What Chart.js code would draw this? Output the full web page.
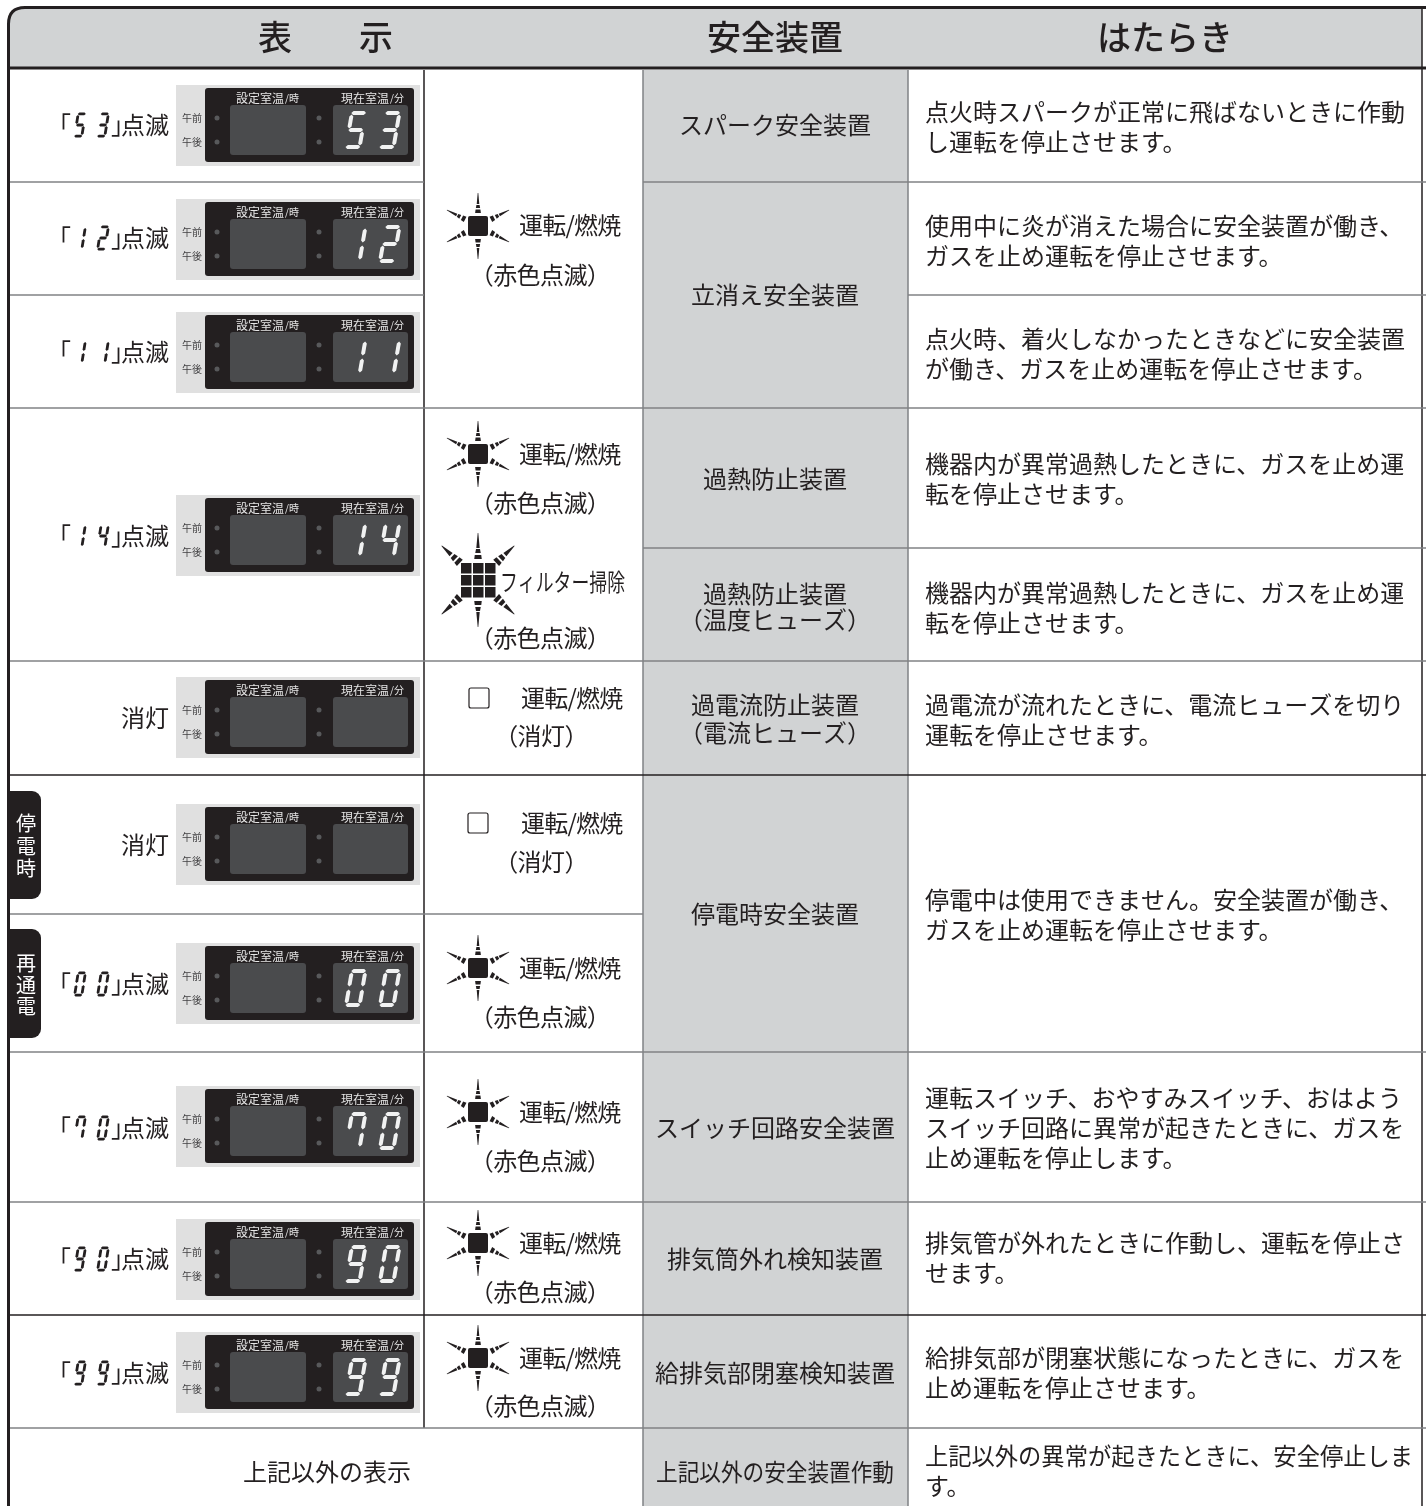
<!DOCTYPE html>
<html lang="ja">
<head>
<meta charset="utf-8">
<title>安全装置</title>
<script src="https://cdn.jsdelivr.net/npm/chart.js@4"></script>
<style>
  html, body { margin: 0; padding: 0; background: #fff; }
  canvas { display: block; }
</style>
</head>
<body>
<canvas id="safetyChart" width="1426" height="1506"></canvas>
<script>
// Table contents
const headers = ["表", "示", "安全装置", "はたらき"];
const displayCodes = ["53", "12", "11", "14", "", "", "00", "70", "90", "99"];
const displayWords = ["点滅", "点滅", "点滅", "点滅", "消灯", "消灯", "点滅", "点滅", "点滅", "点滅"];
const lampName = "運転/燃焼";
const filterName = "フィルター掃除";
const lampBlink = "（赤色点滅）";
const lampOff = "（消灯）";
const sideTabs = [["停", "電", "時"], ["再", "通", "電"]];
const deviceNames = [
  ["スパーク安全装置"], ["立消え安全装置"], ["過熱防止装置"], ["過熱防止装置", "（温度ヒューズ）"],
  ["過電流防止装置", "（電流ヒューズ）"], ["停電時安全装置"], ["スイッチ回路安全装置"],
  ["排気筒外れ検知装置"], ["給排気部閉塞検知装置"], ["上記以外の安全装置作動"]
];
const descriptions = [
  ["点火時スパークが正常に飛ばないときに作動", "し運転を停止させます。"],
  ["使用中に炎が消えた場合に安全装置が働き、", "ガスを止め運転を停止させます。"],
  ["点火時、着火しなかったときなどに安全装置", "が働き、ガスを止め運転を停止させます。"],
  ["機器内が異常過熱したときに、ガスを止め運", "転を停止させます。"],
  ["機器内が異常過熱したときに、ガスを止め運", "転を停止させます。"],
  ["過電流が流れたときに、電流ヒューズを切り", "運転を停止させます。"],
  ["停電中は使用できません。安全装置が働き、", "ガスを止め運転を停止させます。"],
  ["運転スイッチ、おやすみスイッチ、おはよう", "スイッチ回路に異常が起きたときに、ガスを", "止め運転を停止します。"],
  ["排気管が外れたときに作動し、運転を停止さ", "せます。"],
  ["給排気部が閉塞状態になったときに、ガスを", "止め運転を停止させます。"],
  ["上記以外の異常が起きたときに、安全停止しま", "す。"]
];
const otherDisplay = "上記以外の表示";

// Layout, in page pixels (the axes run 0..1426 and 0..1506)
const colEdges = [10, 424, 643, 908, 1422];
const panelTops = [85, 199, 312, 495, 677, 804, 943, 1086, 1219, 1332];
const wordY = [125, 238, 352, 536, 718, 845, 984, 1128, 1259, 1373];
const sunLamps = [[478, 226, 225, 275], [478, 454, 454, 503], [478, 968, 968, 1017], [478, 1112, 1112, 1161], [478, 1243, 1243, 1292], [478, 1358, 1358, 1406]];
const offLamps = [[479, 698, 698, 736], [478, 823, 823, 862]];
const deviceY = [[125], [295], [479], [594, 620], [705, 733], [914], [1128], [1259], [1373], [1472]];
const descY = [[112, 142], [226, 256], [339, 369], [464, 494], [593, 623], [705, 735], [900, 930], [1098, 1128, 1158], [1243, 1273], [1358, 1388], [1456, 1486]];
const tabBoxes = [[791, 899, [823, 846, 868]], [929, 1038, [963, 985, 1006]]];

const INK = "#231f20";
const RULE = "#808285";
const SHADE = "#d1d3d4";
const JP = '"Noto Sans CJK JP", "Noto Sans", sans-serif';

// One entry per ruled line: y, x from, x to, colour
const hRules = [
  [182, 10, 424, RULE], [182, 643, 1426, RULE],
  [295, 10, 424, RULE], [295, 908, 1426, RULE],
  [408, 10, 1426, RULE], [548, 643, 1426, RULE],
  [661, 10, 1426, RULE], [775, 10, 1426, INK],
  [914, 10, 643, RULE], [1052, 10, 1426, RULE],
  [1202, 10, 1426, RULE], [1315, 10, 1426, INK],
  [1428, 10, 1426, RULE]
];
const vRules = [
  [424, 70, 1428, INK], [643, 70, 1506, RULE], [908, 70, 1506, RULE], [1422, 8, 1506, INK]
];

const lineSets = [];
hRules.forEach(r => lineSets.push({
  type: "scatter", showLine: true, pointRadius: 0, borderWidth: 1.5, borderColor: r[3],
  data: [{ x: r[1], y: r[0] }, { x: r[2], y: r[0] }]
}));
vRules.forEach(r => lineSets.push({
  type: "scatter", showLine: true, pointRadius: 0, borderWidth: 1.5, borderColor: r[3],
  data: [{ x: r[0], y: r[1] }, { x: r[0], y: r[2] }]
}));

// Seven segment lookup: top, upper left, upper right, middle, lower left, lower right, bottom
const segMap = {
  "0": [1, 1, 1, 0, 1, 1, 1], "1": [0, 0, 1, 0, 0, 1, 0], "2": [1, 0, 1, 1, 1, 0, 1],
  "3": [1, 0, 1, 1, 0, 1, 1], "4": [0, 1, 1, 1, 0, 1, 0], "5": [1, 1, 0, 1, 0, 1, 1],
  "7": [1, 1, 1, 0, 0, 1, 0], "9": [1, 1, 1, 1, 0, 1, 1]
};

function drawDigit(c, ch, x, y, w, h, t, skew, color) {
  const on = segMap[ch];
  if (!on) return;
  const g = t * 0.35;
  const poly = pts => {
    c.beginPath();
    pts.forEach((p, i) => {
      const px = x + p[0] + (h / 2 - p[1]) * skew;
      if (i === 0) c.moveTo(px, y + p[1]); else c.lineTo(px, y + p[1]);
    });
    c.closePath();
    c.fill();
  };
  const hs = (yy) => poly([[g, yy], [g + t / 2, yy - t / 2], [w - g - t / 2, yy - t / 2], [w - g, yy], [w - g - t / 2, yy + t / 2], [g + t / 2, yy + t / 2]]);
  const vs = (xx, y0, y1) => poly([[xx, y0 + g], [xx + t / 2, y0 + g + t / 2], [xx + t / 2, y1 - g - t / 2], [xx, y1 - g], [xx - t / 2, y1 - g - t / 2], [xx - t / 2, y0 + g + t / 2]]);
  c.fillStyle = color;
  if (on[0]) hs(t / 2);
  if (on[3]) hs(h / 2);
  if (on[6]) hs(h - t / 2);
  if (on[1]) vs(t / 2, t / 2, h / 2);
  if (on[2]) vs(w - t / 2, t / 2, h / 2);
  if (on[4]) vs(t / 2, h / 2, h - t / 2);
  if (on[5]) vs(w - t / 2, h / 2, h - t / 2);
}

function label(c, s, x, y, size, align, color, maxW, spacing, weight) {
  c.font = `${weight || 400} ${size}px ${JP}`;
  c.textAlign = align || "left";
  c.textBaseline = "middle";
  c.fillStyle = color || INK;
  c.letterSpacing = spacing || "0px";
  if (maxW) c.fillText(s, x, y, maxW); else c.fillText(s, x, y);
  c.letterSpacing = "0px";
}

function roundBox(c, x, y, w, h, r, color) {
  c.fillStyle = color;
  c.beginPath();
  c.roundRect(x, y, w, h, r);
  c.fill();
}

function drawPanel(c, top, code) {
  c.fillStyle = "#e0e0e0";
  c.fillRect(176, top, 244, 81);
  roundBox(c, 205, top + 3, 209, 74, 3, INK);
  roundBox(c, 230, top + 20, 76, 50, 3, "#4a4b4d");
  roundBox(c, 333, top + 20, 75, 50, 3, "#4a4b4d");
  label(c, "午前", 182, top + 33, 10, "left", "#414042");
  label(c, "午後", 182, top + 57, 10, "left", "#414042");
  [217, 319].forEach(x => [33, 57].forEach(dy => {
    c.fillStyle = "#58595b";
    c.beginPath();
    c.arc(x, top + dy, 2.5, 0, Math.PI * 2);
    c.fill();
  }));
  label(c, "設定室温", 236, top + 13, 12, "left", "#e6e6e6");
  label(c, "/時", 285, top + 13, 10, "left", "#e6e6e6");
  label(c, "現在室温", 341, top + 13, 12, "left", "#e6e6e6");
  label(c, "/分", 390, top + 13, 10, "left", "#e6e6e6");
  if (code) {
    drawDigit(c, code[0], 347, top + 26, 17.5, 38, 4, 0.17, "#f1f2f2");
    drawDigit(c, code[1], 381, top + 26, 17.5, 38, 4, 0.17, "#f1f2f2");
  }
}

function ray(c, cx, cy, dx, dy, pieces) {
  const len = Math.hypot(dx, dy);
  const ux = dx / len, uy = dy / len;
  c.fillStyle = INK;
  pieces.forEach(p => {
    c.beginPath();
    c.moveTo(cx + ux * p[0] - uy * p[1] / 2, cy + uy * p[0] + ux * p[1] / 2);
    c.lineTo(cx + ux * p[2] - uy * p[3] / 2, cy + uy * p[2] + ux * p[3] / 2);
    c.lineTo(cx + ux * p[2] + uy * p[3] / 2, cy + uy * p[2] - ux * p[3] / 2);
    c.lineTo(cx + ux * p[0] + uy * p[1] / 2, cy + uy * p[0] - ux * p[1] / 2);
    c.closePath();
    c.fill();
  });
}

function drawSun(c, cx, cy) {
  roundBox(c, cx - 10, cy - 10, 20, 20, 2, INK);
  const straight = [[33, 0.6, 22, 2.6], [21, 3.2, 18, 4.2], [16.5, 4.8, 13, 5.8]];
  const slant = [[35, 0.6, 24, 2.6], [23, 3.2, 20, 4.2], [18, 4.8, 14.5, 5.8]];
  ray(c, cx, cy, 0, -1, straight);
  ray(c, cx, cy, 0, 1, straight);
  [[-31, -16], [31, -16], [-31, 16], [31, 16]].forEach(d => ray(c, cx, cy, d[0], d[1], slant));
}

function drawFilterSun(c, cx, cy) {
  c.fillStyle = INK;
  for (let i = 0; i < 3; i++) {
    for (let j = 0; j < 3; j++) {
      c.fillRect(cx - 17 + i * 12, cy - 17 + j * 12, 10.5, 10.5);
    }
  }
  const straight = [[47, 0.6, 32, 3.4], [31, 4, 27, 5.5], [25, 6.5, 21, 7.5]];
  const slant = [[50, 0.6, 37, 4.4], [35, 5.4, 31, 7], [29, 7.5, 25, 8.5]];
  ray(c, cx, cy, 0, -1, straight);
  ray(c, cx, cy, 0, 1, straight);
  [[-36, -34], [36, -34], [-36, 34], [36, 34]].forEach(d => ray(c, cx, cy, d[0], d[1], slant));
}

const background = {
  id: "background",
  beforeDatasetsDraw(chart) {
    const c = chart.ctx;
    const X = v => chart.scales.x.getPixelForValue(v);
    const Y = v => chart.scales.y.getPixelForValue(v);
    // shaded device column
    c.fillStyle = SHADE;
    c.fillRect(X(colEdges[2]), Y(70), X(colEdges[3]) - X(colEdges[2]), Y(1506) - Y(70));
    // header band with the rounded corner
    c.beginPath();
    c.moveTo(X(8.5), Y(68));
    c.lineTo(X(8.5), Y(24));
    c.quadraticCurveTo(X(8.5), Y(7.5), X(25), Y(7.5));
    c.lineTo(X(1422), Y(7.5));
    c.lineTo(X(1422), Y(68));
    c.closePath();
    c.fillStyle = SHADE;
    c.fill();
  },
  afterDatasetsDraw(chart) {
    const c = chart.ctx;
    const X = v => chart.scales.x.getPixelForValue(v);
    const Y = v => chart.scales.y.getPixelForValue(v);
    // thick frame
    c.strokeStyle = INK;
    c.lineWidth = 3;
    c.beginPath();
    c.moveTo(X(8.5), Y(1506));
    c.lineTo(X(8.5), Y(24));
    c.quadraticCurveTo(X(8.5), Y(7.5), X(25), Y(7.5));
    c.lineTo(X(1426), Y(7.5));
    c.moveTo(X(8.5), Y(68));
    c.lineTo(X(1426), Y(68));
    c.stroke();

    // header
    label(c, headers[0], X(275), Y(37), 34, "center", INK, 0, "0px", 500);
    label(c, headers[1], X(376), Y(37), 34, "center", INK, 0, "0px", 500);
    label(c, headers[2], X(775), Y(37), 34, "center", INK, 0, "0px", 500);
    label(c, headers[3], X(1165), Y(37), 34, "center", INK, 0, "0px", 500);

    // display column
    displayCodes.forEach((code, i) => {
      drawPanel(c, Y(panelTops[i]), code);
      const y = Y(wordY[i]);
      label(c, displayWords[i], X(169), y, 24, "right");
      if (code) {
        label(c, "「", X(47), y, 24);
        label(c, "」", X(111), y, 24);
        drawDigit(c, code[0], X(75), y - 12.5, 10, 25, 2.8, 0.16, INK);
        drawDigit(c, code[1], X(98), y - 12.5, 10, 25, 2.8, 0.16, INK);
      }
    });
    label(c, otherDisplay, X(327), Y(1472), 24, "center");

    // side tabs
    tabBoxes.forEach((t, i) => {
      c.fillStyle = INK;
      c.beginPath();
      c.roundRect(X(10), Y(t[0]), 31, Y(t[1]) - Y(t[0]), [0, 9, 9, 0]);
      c.fill();
      sideTabs[i].forEach((s, j) => label(c, s, X(26), Y(t[2][j]), 20, "center", "#fff"));
    });

    // lamps
    sunLamps.forEach(l => {
      drawSun(c, X(l[0]), Y(l[1]));
      label(c, lampName, X(519), Y(l[2]), 24, "left", INK, 0, "-0.8px");
      label(c, lampBlink, X(540), Y(l[3]), 24, "center", INK, 0, "-0.6px");
    });
    drawFilterSun(c, X(478), Y(580));
    label(c, filterName, X(500), Y(582), 24, "left", INK, 125);
    label(c, lampBlink, X(540), Y(638), 24, "center", INK, 0, "-0.6px");
    offLamps.forEach(l => {
      c.strokeStyle = INK;
      c.lineWidth = 1.2;
      c.beginPath();
      c.roundRect(X(l[0]) - 10, Y(l[1]) - 10, 20, 20, 2);
      c.stroke();
      label(c, lampName, X(521), Y(l[2]), 24, "left", INK, 0, "-0.8px");
      label(c, lampOff, X(541), Y(l[3]), 24, "center", INK, 0, "-0.6px");
    });

    // device names and descriptions
    deviceNames.forEach((lines, i) => lines.forEach((s, j) => {
      label(c, s, X(775), Y(deviceY[i][j]), 24, "center", INK, i === 9 ? 238 : 0);
    }));
    descriptions.forEach((lines, i) => lines.forEach((s, j) => {
      label(c, s, X(925), Y(descY[i][j]), 24, "left", INK, i === 10 && j === 0 ? 488 : 0);
    }));
  }
};

new Chart(document.getElementById("safetyChart").getContext("2d"), {
  type: "scatter",
  data: { datasets: lineSets },
  plugins: [background],
  options: {
    responsive: false,
    animation: false,
    events: [],
    layout: { padding: 0 },
    plugins: { legend: { display: false }, tooltip: { enabled: false }, title: { display: false } },
    scales: {
      x: { type: "linear", min: 0, max: 1426, display: false },
      y: { type: "linear", min: 0, max: 1506, reverse: true, display: false }
    }
  }
});
</script>
</body>
</html>
